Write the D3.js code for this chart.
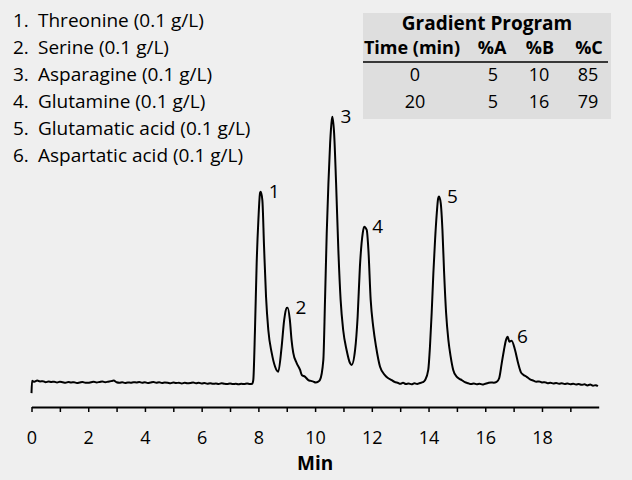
<!DOCTYPE html>
<html><head><meta charset="utf-8">
<script src="https://cdn.jsdelivr.net/npm/d3@7/dist/d3.min.js"></script>
<style>
body{margin:0;background:#efefef;}
svg{display:block;font-family:"Open Sans",sans-serif;}
</style>
</head><body>
<svg id="chart" width="632" height="480"></svg>
<script>
// ---- data ----
const times = [
 0.00,0.02,0.10,0.20,0.30,0.40,0.50,0.60,0.70,0.80,0.90,1.00,1.10,1.20,1.30,1.40,1.50,1.60,1.70,1.80,1.90,
 2.00,2.10,2.20,2.30,2.40,2.50,2.60,2.70,2.80,2.90,3.00,3.10,3.20,3.30,3.40,3.50,3.60,3.70,3.80,3.90,
 4.00,4.10,4.20,4.30,4.40,4.50,4.60,4.70,4.80,4.90,5.00,5.10,5.20,5.30,5.40,5.50,5.60,5.70,5.80,5.90,
 6.00,6.10,6.20,6.30,6.40,6.50,6.60,6.70,6.80,6.90,7.00,7.10,7.20,7.30,7.40,7.50,7.60,7.70,7.78,
 7.82,7.88,7.94,8.00,8.06,8.08,8.14,8.20,8.27,8.35,8.47,8.59,8.70,8.82,8.91,9.00,9.03,9.11,9.17,9.23,
 9.35,9.47,9.53,9.64,9.76,9.85,9.94,10.02,10.11,10.17,10.29,10.35,10.41,10.47,10.53,10.59,10.61,10.67,
 10.74,10.82,10.90,10.99,11.11,11.23,11.29,11.41,11.50,11.58,11.68,11.73,11.82,11.88,11.96,12.05,12.15,
 12.29,12.46,12.58,12.70,12.80,12.93,13.00,13.10,13.20,13.30,13.40,13.50,13.60,13.70,13.80,13.88,13.99,
 14.05,14.11,14.17,14.23,14.29,14.34,14.37,14.43,14.49,14.55,14.62,14.70,14.78,14.87,14.99,15.08,15.17,
 15.28,15.40,15.50,15.60,15.70,15.80,15.90,16.00,16.10,16.20,16.30,16.40,16.49,16.58,16.66,16.73,16.79,
 16.85,16.93,17.05,17.16,17.25,17.34,17.45,17.58,17.70,17.80,17.90,18.00,18.10,18.20,18.30,18.40,18.50,
 18.60,18.70,18.80,18.90,19.00,19.10,19.20,19.30,19.40,19.50,19.60,19.70,19.80,19.90,19.97
];
const signal = [
 -3.8,0.8,0.5,0.9,0.6,0.7,0.3,0.6,0.4,0.5,0.2,0.5,0.3,0.1,0.4,0.2,0.3,0.0,0.2,0.4,0.1,
 0.1,0.3,0.5,0.2,0.4,0.6,0.3,0.5,0.7,0.9,0.3,0.1,0.3,0.0,0.2,0.1,0.3,0.2,0.4,0.1,
 0.3,0.0,0.2,0.4,0.1,0.3,0.0,0.2,0.1,-0.1,0.2,0.0,0.1,-0.2,0.1,-0.1,0.0,0.2,-0.1,0.1,
 -0.2,0.0,-0.3,-0.1,-0.3,-0.2,-0.4,-0.1,-0.3,-0.4,-0.2,-0.4,-0.3,-0.5,-0.3,-0.4,-0.2,-0.4,-0.3,
 1.1,19.9,45.1,61.2,71.4,71.8,68.7,51.2,32.4,19.9,11.3,6.1,4.2,13.6,23.7,28.2,28.3,23.7,16.1,11.3,
 7.5,4.9,3.0,2.4,1.1,0.8,0.5,0.2,0.5,1.1,8.6,31.2,56.3,75.1,90.1,98.8,100,93.9,
 75.1,49.9,31.2,19.9,12.4,7.5,6.8,12.4,24.9,43.7,56.3,58.7,57.5,49.9,31.2,21.1,13.6,
 6.1,3.0,1.8,1.1,0.4,0.0,-0.3,0.1,-0.4,-0.2,-0.5,-0.1,-0.4,0.0,0.3,1.1,4.9,
 13.6,26.2,41.2,53.7,63.7,69.4,70.0,67.5,57.5,41.2,26.2,16.1,9.9,4.9,2.4,1.6,1.1,
 0.3,-0.1,-0.4,-0.2,-0.5,-0.3,-0.6,-0.3,0.0,0.2,0.1,0.4,1.8,7.4,12.4,16.1,17.4,15.5,
 15.9,12.4,7.4,4.2,3.1,2.4,1.4,0.9,0.5,0.6,0.2,0.3,-0.1,0.1,-0.2,0.0,-0.3,
 -0.1,-0.4,-0.2,-0.5,-0.3,-0.6,-0.4,-0.7,-0.5,-0.9,-0.6,-1.0,-0.8,-1.2,-1.4
];
const peakNumbers = ["1","2","3","4","5","6"];
const peakTimes = [8.08, 9.03, 10.61, 11.73, 14.37, 16.73];
const peakHeights = [71.8, 28.3, 100, 58.7, 70.0, 17.4];
const compoundNames = ["Threonine (0.1 g/L)","Serine (0.1 g/L)","Asparagine (0.1 g/L)",
  "Glutamine (0.1 g/L)","Glutamatic acid (0.1 g/L)","Aspartatic acid (0.1 g/L)"];
const gradientTitle = "Gradient Program";
const gradientHeader = ["Time (min)","%A","%B","%C"];
const gradientRows = [["0","5","10","85"],["20","5","16","79"]];
const xTickLabels = [0,2,4,6,8,10,12,14,16,18];
const xMinorTicks = [0,1,2,3,4,5,6,7,8,9,10,11,12,13,14,15,16,17,18,19];
const xTitle = "Min";

// ---- drawing ----
const svg = d3.select("#chart");
svg.append("rect").attr("width",632).attr("height",480).attr("fill","#efefef");

const x = d3.scaleLinear().domain([0,20]).range([31.5,598.7]);
const y = d3.scaleLinear().domain([0,100]).range([383,116.7]);

// axis
const axis = d3.axisBottom(x).tickValues(xMinorTicks).tickSize(5).tickSizeOuter(0)
  .tickFormat(d => xTickLabels.includes(d) ? d : "");
const gx = svg.append("g").attr("transform","translate(0,407)").call(axis);
gx.select(".domain").attr("stroke","#000").attr("stroke-width",2);
gx.selectAll(".tick line").attr("stroke","#000").attr("stroke-width",1.5);
gx.selectAll(".tick text").attr("font-family","'Open Sans',sans-serif").attr("font-size",18)
  .attr("fill","#000").attr("y",24);
svg.append("text").attr("x",x(10)).attr("y",470).attr("text-anchor","middle")
  .attr("font-size",19).attr("font-weight","bold").text(xTitle);

// trace
const data = times.map((t,i)=>[t,signal[i]]);
svg.append("path").datum(data)
  .attr("fill","none").attr("stroke","#000").attr("stroke-width",2).attr("stroke-linejoin","round")
  .attr("d", d3.line().x(d=>x(d[0])).y(d=>y(d[1])).curve(d3.curveMonotoneX));

// peak labels
svg.selectAll(".pl").data(peakNumbers).join("text").attr("class","pl")
  .attr("x",(d,i)=>x(peakTimes[i])+8 + (i===5?3:0)).attr("y",(d,i)=>y(peakHeights[i])+6)
  .attr("font-size",19).text(d=>d);

// legend list
const leg = svg.append("g");
compoundNames.forEach((n,i)=>{
  leg.append("text").attr("x",13).attr("y",27+i*27).attr("font-size",19).text(peakNumbers[i]+".");
  leg.append("text").attr("x",38).attr("y",27+i*27).attr("font-size",19).text(n);
});

// gradient table
const tb = svg.append("g");
tb.append("rect").attr("x",363).attr("y",13).attr("width",248).attr("height",106).attr("fill","#dedede");
tb.append("text").attr("x",487).attr("y",30).attr("text-anchor","middle").attr("font-size",19)
  .attr("font-weight","bold").text(gradientTitle);
const colX = [412, 492, 540, 589];
gradientHeader.forEach((h,j)=>{
  tb.append("text").attr("x",colX[j]).attr("y",54).attr("text-anchor","middle")
    .attr("font-size",18).attr("font-weight","bold").text(h);
});
tb.append("line").attr("x1",363).attr("x2",608).attr("y1",62).attr("y2",62)
  .attr("stroke","#000").attr("stroke-width",1.5);
const valX = [415, 493, 539, 588];
gradientRows.forEach((r,i)=>{
  r.forEach((v,j)=>{
    tb.append("text").attr("x",valX[j]).attr("y",81+i*27).attr("text-anchor","middle")
      .attr("font-size",18).text(v);
  });
});
</script>
</body></html>
